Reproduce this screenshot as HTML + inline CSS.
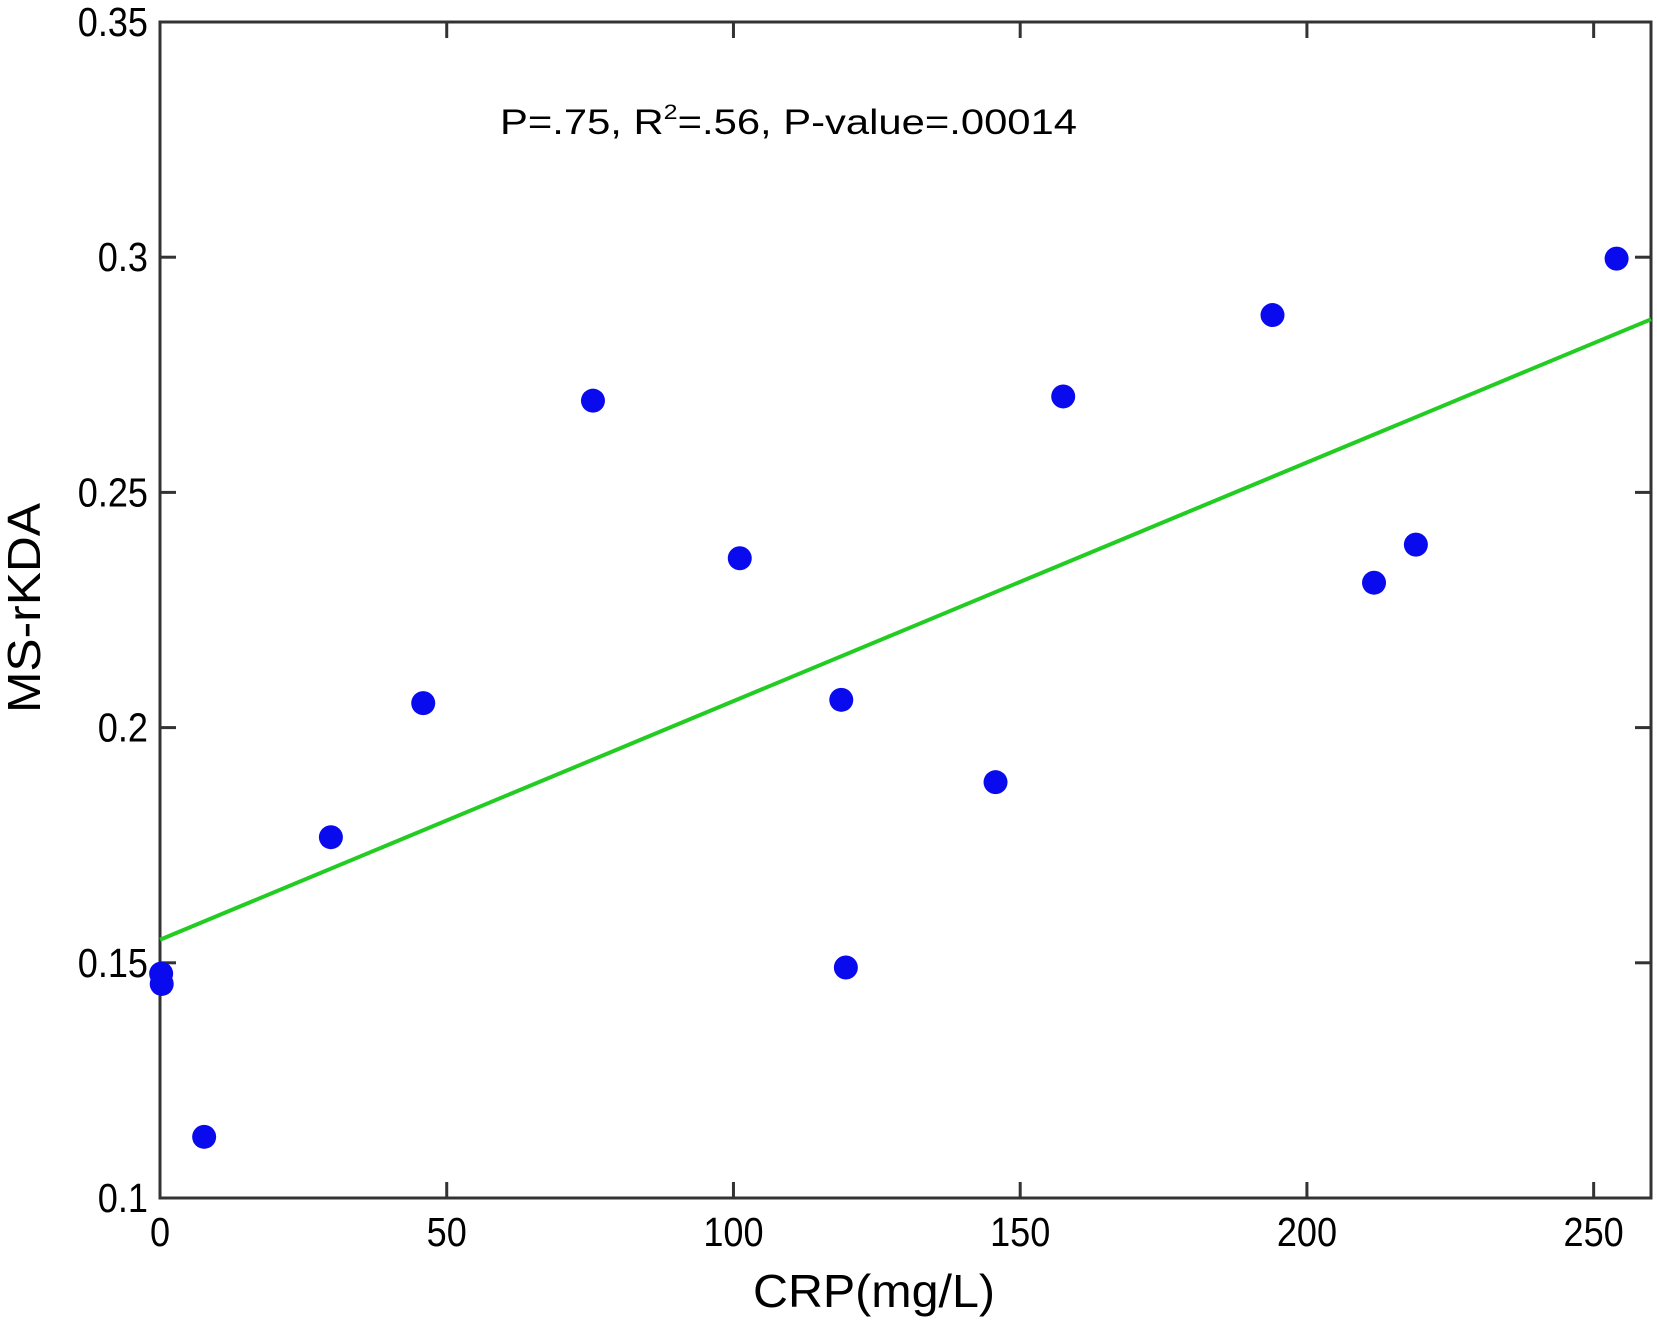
<!DOCTYPE html>
<html><head><meta charset="utf-8"><style>
html,body{margin:0;padding:0;background:#fff;}
svg{display:block;font-family:"Liberation Sans",Arial,sans-serif;}
</style></head><body>
<svg id="chart" width="1657" height="1320" viewBox="0 0 1657 1320">
<rect x="0" y="0" width="1657" height="1320" fill="#fff"/>
<g id="plot"></g>
<text x="500" y="134" font-size="35" textLength="577" lengthAdjust="spacingAndGlyphs">P=.75, R<tspan dy="-15" font-size="21">2</tspan><tspan dy="15">=.56, P-value=.00014</tspan></text>
<text x="874" y="1307" font-size="46" text-anchor="middle" textLength="242" lengthAdjust="spacingAndGlyphs">CRP(mg/L)</text>
<text transform="translate(40,608) rotate(-90)" font-size="46" text-anchor="middle" textLength="210" lengthAdjust="spacingAndGlyphs">MS-rKDA</text>
</svg>
<script>
const xVals=[0.2,0.3,7.7,29.8,45.9,75.5,101.1,118.8,119.6,145.7,157.5,194,211.7,219,254];
const yVals=[0.1477,0.1455,0.113,0.1767,0.2052,0.2695,0.236,0.2059,0.149,0.1884,0.2704,0.2877,0.2308,0.2389,0.2997];
const xTicks=[0,50,100,150,200,250];
const yTicks=[0.1,0.15,0.2,0.25,0.3,0.35];
const yTickLabels=["0.1","0.15","0.2","0.25","0.3","0.35"];
const fitX=[0,260];
const fitY=[0.1549,0.2868];

const L=160,R=1651,T=22,B=1198;
const xMin=0,xMax=260,yMin=0.1,yMax=0.35;
const sx=v=>L+(v-xMin)/(xMax-xMin)*(R-L);
const sy=v=>B-(v-yMin)/(yMax-yMin)*(B-T);
const NS="http://www.w3.org/2000/svg";
const g=document.getElementById('plot');
function mk(t,a){const e=document.createElementNS(NS,t);for(const k in a)e.setAttribute(k,a[k]);g.appendChild(e);return e;}
function squeeze(e){const w=e.getComputedTextLength();e.setAttribute('textLength',(w*0.88).toFixed(1));e.setAttribute('lengthAdjust','spacingAndGlyphs');}

const frame=mk('rect',{x:L,y:T,width:R-L,height:B-T,fill:'none',stroke:'#333',"stroke-width":3});



xTicks.forEach((v,i)=>{
  const x=sx(v);
  const t1=mk('line',{x1:x,x2:x,y1:B,y2:B-16,stroke:'#333',"stroke-width":3});
  
  
  const t2=mk('line',{x1:x,x2:x,y1:T,y2:T+16,stroke:'#333',"stroke-width":3});
  
  
  const lb=mk('text',{x:x,y:1246,"font-size":41,"text-anchor":"middle"});
  lb.textContent=String(v);
  
  
  squeeze(lb);
});
yTicks.forEach((v,i)=>{
  const y=sy(v);
  const t1=mk('line',{x1:L,x2:L+16,y1:y,y2:y,stroke:'#333',"stroke-width":3});
  
  
  const t2=mk('line',{x1:R,x2:R-16,y1:y,y2:y,stroke:'#333',"stroke-width":3});
  
  
  const lb=mk('text',{x:148,y:y+14,"font-size":41,"text-anchor":"end"});
  lb.textContent=yTickLabels[i];
  
  
  squeeze(lb);
});

const fit=mk('line',{x1:sx(fitX[0]),y1:sy(fitY[0]),x2:sx(fitX[1]),y2:sy(fitY[1]),stroke:'#22cc22',"stroke-width":4});



xVals.forEach((v,i)=>{
  const c=mk('circle',{cx:sx(v),cy:sy(yVals[i]),r:12,fill:'#0a0aee'});
  
  
});
</script>
</body></html>
